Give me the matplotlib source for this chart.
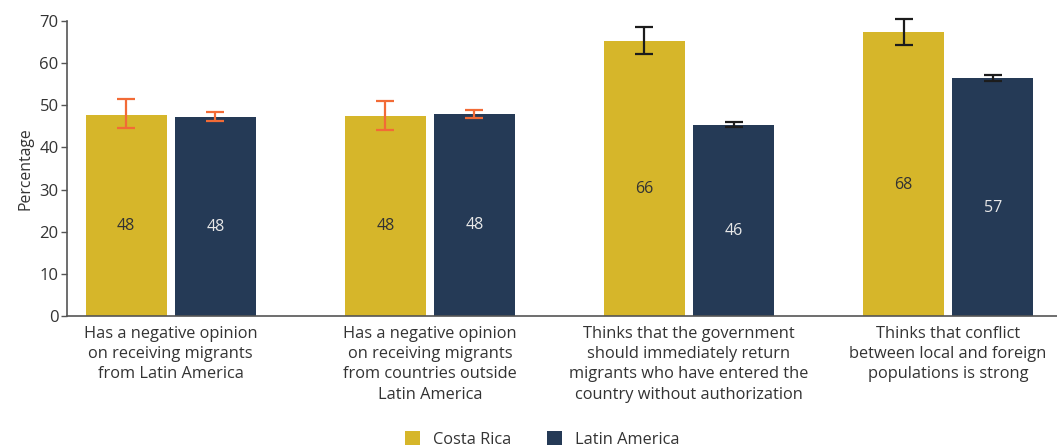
import numpy as np
import matplotlib.pyplot as plt

# data
categories = ["Has a negative opinion\non receiving migrants\nfrom Latin America",
              "Has a negative opinion\non receiving migrants\nfrom countries outside\nLatin America",
              "Thinks that the government\nshould immediately return\nmigrants who have entered the\ncountry without authorization",
              "Thinks that conflict\nbetween local and foreign\npopulations is strong"]
costa_rica = [47.7, 47.5, 65.2, 67.3]
latin_america = [47.3, 48.0, 45.4, 56.5]
cr_low = [44.7, 44.2, 62.2, 64.4]
cr_high = [51.5, 51.1, 68.5, 70.4]
la_low = [46.3, 47.0, 44.9, 55.7]
la_high = [48.5, 48.9, 46.0, 57.3]
cr_labels = ["48", "48", "66", "68"]
la_labels = ["48", "48", "46", "57"]
err_colors = ["#F26B36", "#F26B36", "#1c1c1c", "#1c1c1c"]

gold = "#D6B62A"
navy = "#253A56"

plt.rcParams['font.family'] = ['Open Sans', 'DejaVu Sans']

fig = plt.figure(figsize=(10.57, 4.47), dpi=100)
ax = fig.add_axes([0.0634, 0.293, 0.9366, 0.66])

x = np.arange(len(categories))
w = 0.313
off = 0.172

b1 = ax.bar(x - off, costa_rica, w, color=gold, label="Costa Rica", zorder=2)
b2 = ax.bar(x + off, latin_america, w, color=navy, label="Latin America", zorder=2)

for i in range(len(categories)):
    eb1 = ax.errorbar(x[i] - off, costa_rica[i],
                      yerr=[[costa_rica[i] - cr_low[i]], [cr_high[i] - costa_rica[i]]],
                      fmt='none', ecolor=err_colors[i], elinewidth=1.6, capsize=6.5, capthick=1.6, zorder=3)
    eb2 = ax.errorbar(x[i] + off, latin_america[i],
                      yerr=[[latin_america[i] - la_low[i]], [la_high[i] - latin_america[i]]],
                      fmt='none', ecolor=err_colors[i], elinewidth=1.6, capsize=6.5, capthick=1.6, zorder=3)
    for eb in (eb1, eb2):
        for part in eb.lines[1] + eb.lines[2]:
            part.set_clip_on(False)
    ax.text(x[i] - off, costa_rica[i] / 2 - 2.5, cr_labels[i], ha='center', va='center',
            fontsize=11.5, color="#333333")
    ax.text(x[i] + off, latin_america[i] / 2 - 2.5, la_labels[i], ha='center', va='center',
            fontsize=11.5, color="#e8e8e8")

ax.set_xlim(-0.40, 3.42)
ax.set_ylim(0, 70)
ax.set_yticks(range(0, 71, 10))
ax.set_xticks(x)
ax.set_xticklabels(categories, fontsize=11.8, color="#333333", linespacing=1.36)
ax.tick_params(axis='x', length=0, pad=7)
ax.tick_params(axis='y', length=4, width=1, color="#555555", labelsize=12, labelcolor="#333333", pad=2)
ax.set_ylabel("Percentage", fontsize=11.3, color="#333333", labelpad=4)

for s in ['top', 'right']:
    ax.spines[s].set_visible(False)
ax.spines['left'].set_color("#555555")
ax.spines['bottom'].set_color("#555555")
ax.spines['left'].set_linewidth(1.2)
ax.spines['bottom'].set_linewidth(1.2)

fig.legend(handles=[b1, b2], loc='lower center', bbox_to_anchor=(0.513, -0.035), ncol=2,
           frameon=False, fontsize=11.8, handlelength=0.9, handleheight=0.9,
           columnspacing=2.2, handletextpad=0.8, labelcolor="#333333")

fig.savefig("out.png", dpi=100)
